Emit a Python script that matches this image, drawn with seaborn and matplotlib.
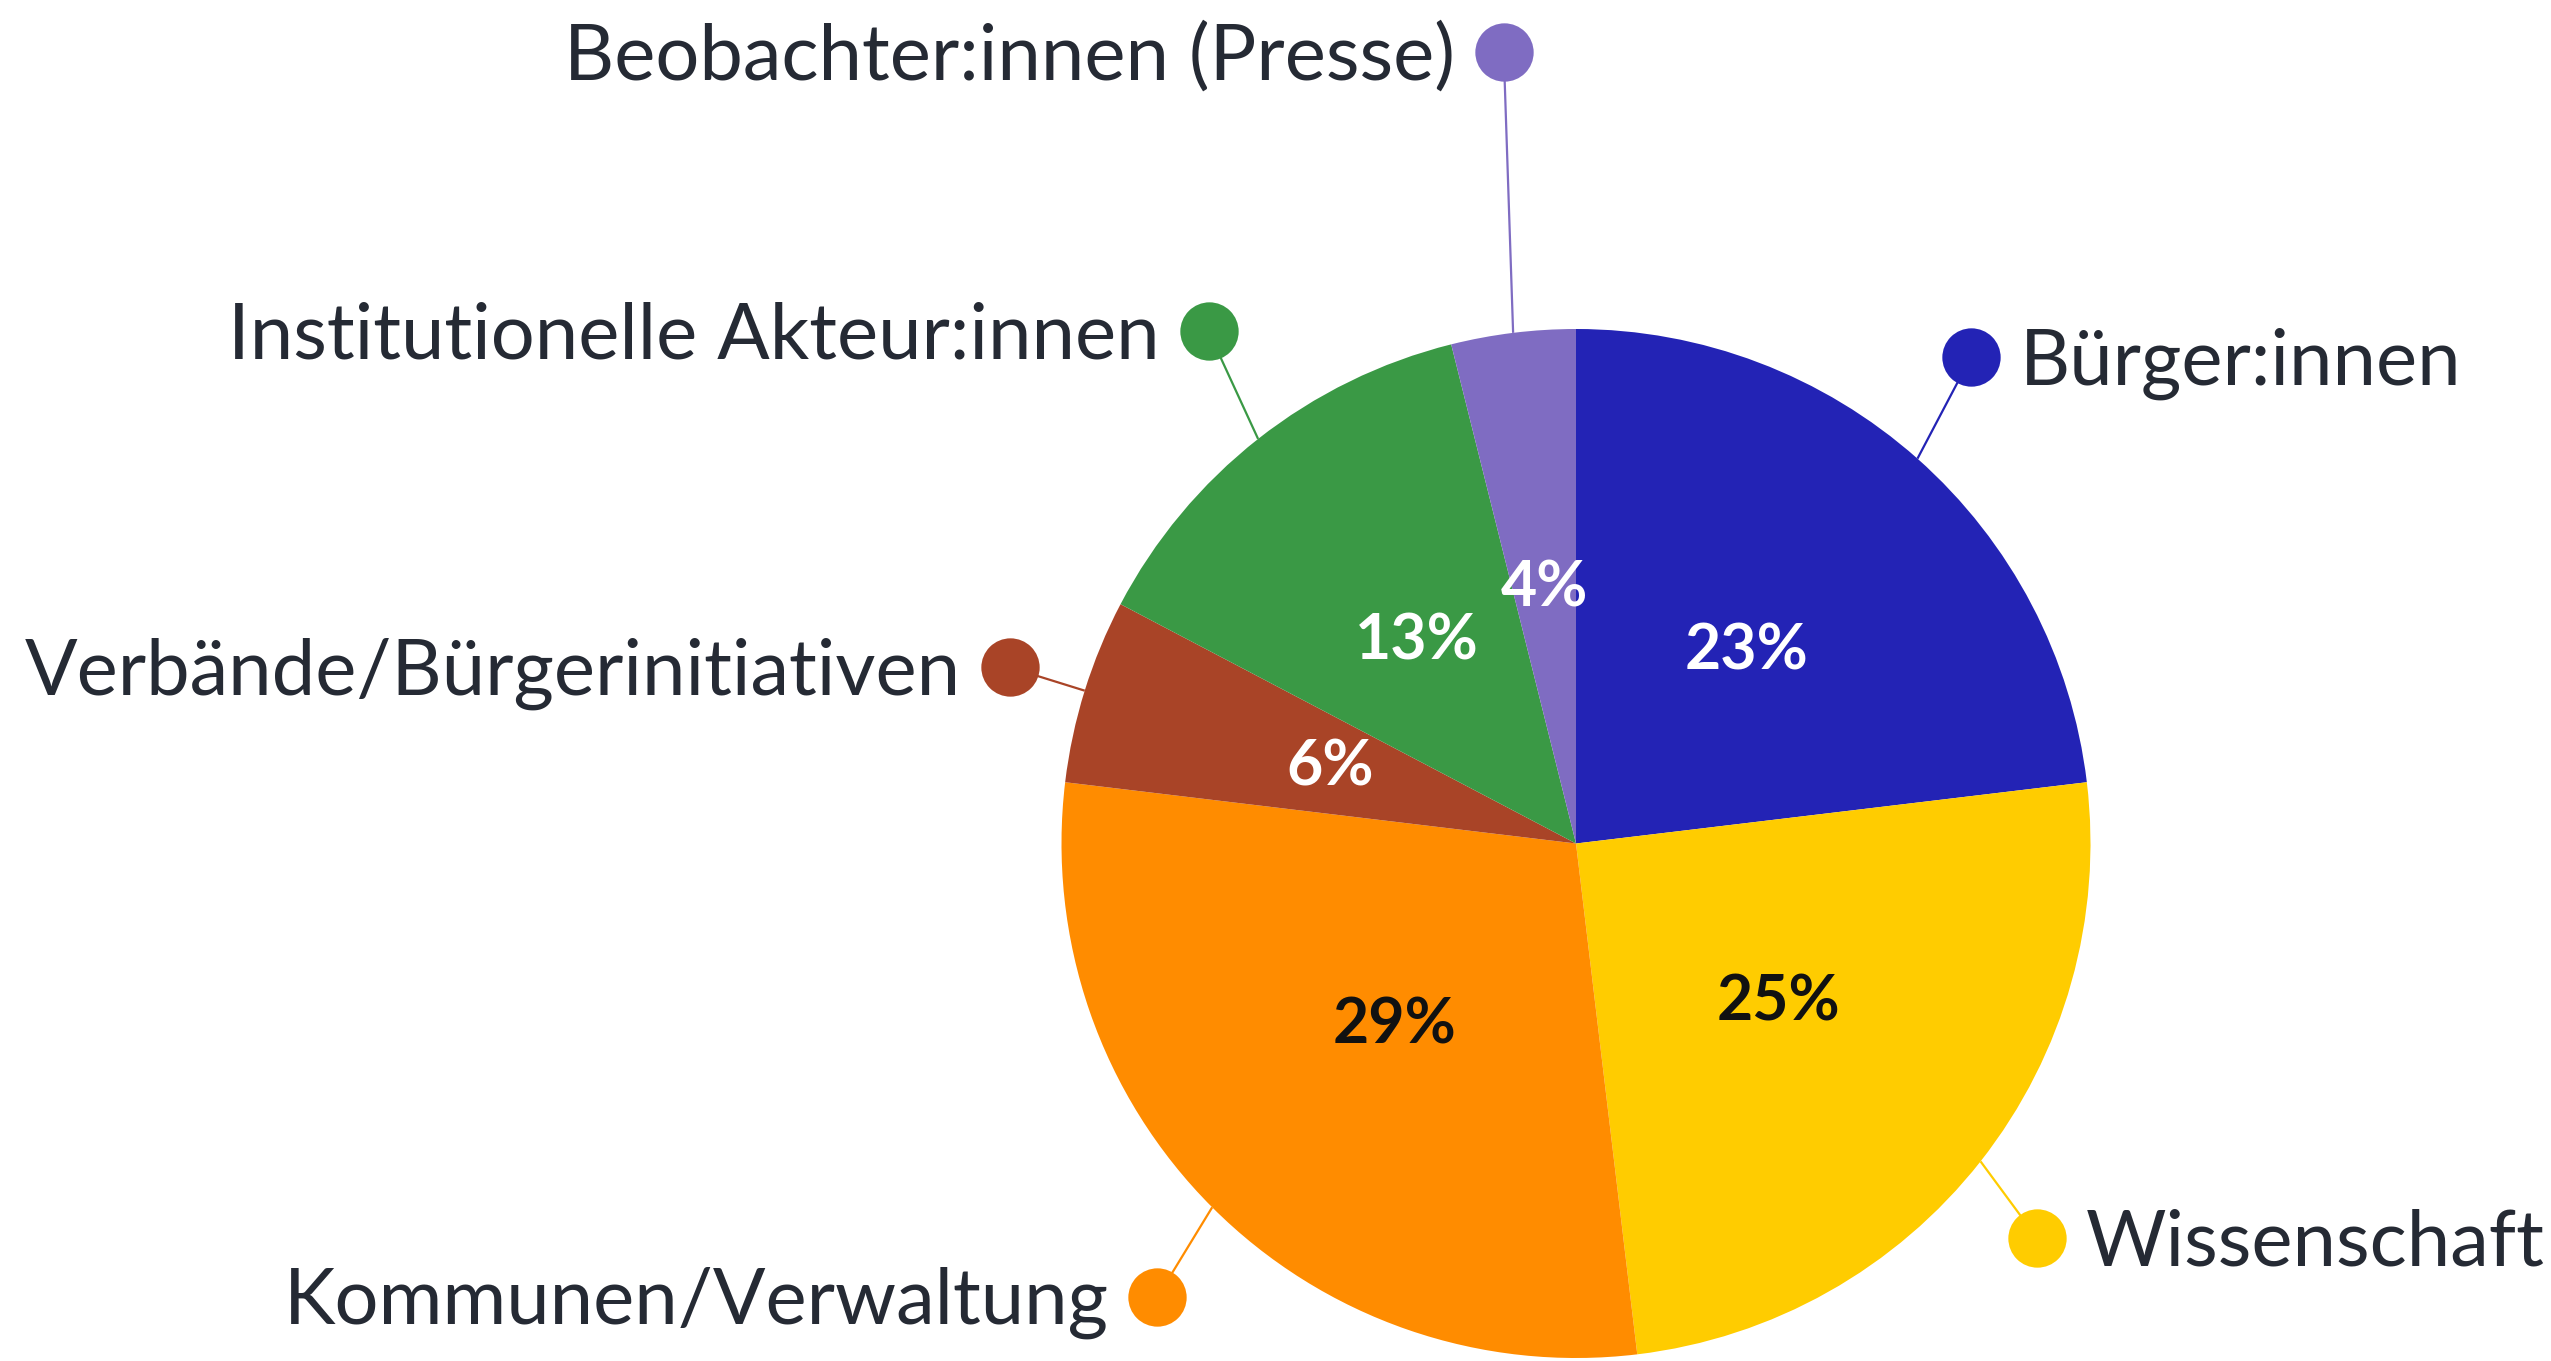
import numpy as np
import matplotlib
matplotlib.use("Agg")
import matplotlib.pyplot as plt
import seaborn as sns

# ---- data ----
categories = ["Bürger:innen", "Wissenschaft", "Kommunen/Verwaltung",
              "Verbände/Bürgerinitiativen", "Institutionelle Akteur:innen",
              "Beobachter:innen (Presse)"]
shares = [23.1, 25.0, 28.8, 5.8, 13.4, 3.9]
slice_colors = ["#2323B5", "#FFCC00", "#FF8C00", "#A94427", "#3A9945", "#7F6CC2"]
pct_text_colors = ["white", "#111111", "#111111", "white", "white", "white"]

# layout for outside labels (radius of the dot, angular nudge in degrees)
dot_radius = [1.217, 1.18, 1.20, 1.152, 1.225, 1.544]
dot_angle_shift = [2.5, -2.4, 2.3, 0.0, -2.5, -1.8]

sns.set_theme(style="white")
plt.rcParams["font.family"] = ["Lato", "DejaVu Sans"]

W, H = 2551, 1361
cx, cy, R = 1576, 843.5, 514.5
fig = plt.figure(figsize=(W / 100, H / 100), dpi=100)
ax = fig.add_axes([0, 0, 1, 1])

palette = sns.color_palette(slice_colors)
wedges, texts, autotexts = ax.pie(
    shares, colors=palette, startangle=90, counterclock=False,
    radius=1.0, center=(0, 0), autopct=lambda p: f"{p:.0f}%",
    pctdistance=0.5, wedgeprops=dict(linewidth=0), frame=True,
    textprops=dict(fontsize=45, fontweight="bold"))
ax.set_xlim(-cx / R, (W - cx) / R)
ax.set_ylim(-(H - cy) / R, cy / R)
ax.set_aspect("equal")
ax.axis("off")

for t, c in zip(autotexts, pct_text_colors):
    t.set_color(c)

text_color = "#252A34"
cap_half = 0.052
for w, lab, col, r, da in zip(wedges, categories, slice_colors, dot_radius, dot_angle_shift):
    mid = np.deg2rad((w.theta1 + w.theta2) / 2)
    ex, ey = np.cos(mid), np.sin(mid)
    a2 = mid + np.deg2rad(da)
    dx, dy = r * np.cos(a2), r * np.sin(a2)
    ax.plot([ex, dx], [ey, dy], color=col, lw=1.6, zorder=3, solid_capstyle="butt")
    ax.plot([dx], [dy], marker="o", markersize=42, color=col, markeredgewidth=0, zorder=4)
    if dx > 0:
        ax.text(dx + 0.095, dy - cap_half, lab, ha="left", va="baseline",
                fontsize=56, color=text_color)
    else:
        ax.text(dx - 0.095, dy - cap_half, lab, ha="right", va="baseline",
                fontsize=56, color=text_color)

fig.savefig("out.png", dpi=100, facecolor="white")
